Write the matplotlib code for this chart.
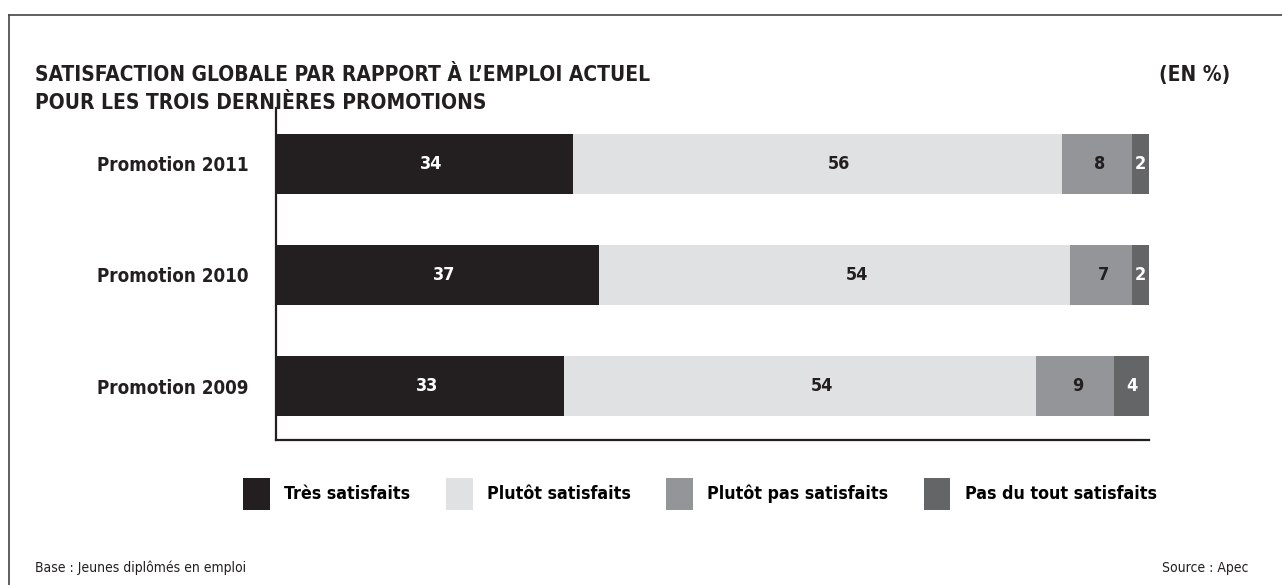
import numpy as np
import matplotlib
matplotlib.use('Agg')
import matplotlib.pyplot as plt
from matplotlib.patches import Patch

# data
promotions = ['Promotion 2011', 'Promotion 2010', 'Promotion 2009']
categories = ['Très satisfaits', 'Plutôt satisfaits', 'Plutôt pas satisfaits', 'Pas du tout satisfaits']
tres = [34, 37, 33]
plutot = [56, 54, 54]
plutot_pas = [8, 7, 9]
pas_du_tout = [2, 2, 4]

colors = ['#231f20', '#e0e1e3', '#939598', '#646567']
text_colors = ['white', '#231f20', '#231f20', 'white']
label_shift = [0.8, 2.5, 0.3, 0.0]   # labels sit a bit right of segment centre

plt.rcParams['font.family'] = ['DejaVu Sans']
plt.rcParams['font.stretch'] = 'condensed'
plt.rcParams['font.weight'] = 'bold'

fig = plt.figure(figsize=(12.82, 5.85), dpi=100)
ax = fig.add_axes([276 / 1282, 1 - 440 / 585, 873 / 1282, 332 / 585])

y = np.arange(len(promotions))
left = np.zeros(len(promotions))
for vals, col, tcol, dx in zip([tres, plutot, plutot_pas, pas_du_tout], colors, text_colors, label_shift):
    vals = np.array(vals)
    ax.barh(y, vals, left=left, height=0.54, color=col, edgecolor='none')
    for yi, l, v in zip(y, left, vals):
        ax.text(l + v / 2 + dx, yi, str(v), ha='center', va='center', color=tcol,
                fontsize=13, fontweight='bold')
    left = left + vals

ax.set_xlim(0, 100)
ax.set_ylim(2 + 54 / 111, -56 / 111)
ax.set_yticks(y)
ax.set_yticklabels(promotions, fontsize=13.5, fontweight='bold', color='#231f20')
ax.tick_params(axis='y', length=0, pad=20)
ax.set_xticks([])
for s in ['top', 'right']:
    ax.spines[s].set_visible(False)
for s in ['left', 'bottom']:
    ax.spines[s].set_linewidth(1.6)
    ax.spines[s].set_color('#231f20')

# legend
handles = [Patch(facecolor=c, edgecolor='none') for c in colors]
fig.legend(handles, categories, loc='center', bbox_to_anchor=(700 / 1282, 1 - 494 / 585),
           ncol=4, frameon=False, handlelength=1.5, handleheight=2.4,
           handletextpad=0.8, columnspacing=2.0,
           prop={'weight': 'bold', 'size': 12.8, 'stretch': 'condensed'})

# titles
fig.text(35 / 1282, 1 - 75 / 585, "SATISFACTION GLOBALE PAR RAPPORT À L’EMPLOI ACTUEL",
         fontsize=15, fontweight='bold', va='center', color='#231f20')
fig.text(35 / 1282, 1 - 103 / 585, "POUR LES TROIS DERNIÈRES PROMOTIONS",
         fontsize=15, fontweight='bold', va='center', color='#231f20')
fig.text(1230 / 1282, 1 - 75 / 585, "(EN %)", fontsize=15, fontweight='bold',
         va='center', ha='right', color='#231f20')

fig.text(35 / 1282, 1 - 568 / 585, "Base : Jeunes diplômés en emploi", fontsize=10,
         fontweight='normal', va='center', color='#231f20')
fig.text(1248 / 1282, 1 - 568 / 585, "Source : Apec", fontsize=10,
         fontweight='normal', va='center', ha='right', color='#231f20')

# frame
fig.add_artist(plt.Line2D([9 / 1282, 1], [1 - 15 / 585, 1 - 15 / 585], color='#444444', lw=1.2,
                          transform=fig.transFigure))
fig.add_artist(plt.Line2D([9 / 1282, 9 / 1282], [0, 1 - 15 / 585], color='#444444', lw=1.2,
                          transform=fig.transFigure))

fig.savefig('out.png', dpi=100)
